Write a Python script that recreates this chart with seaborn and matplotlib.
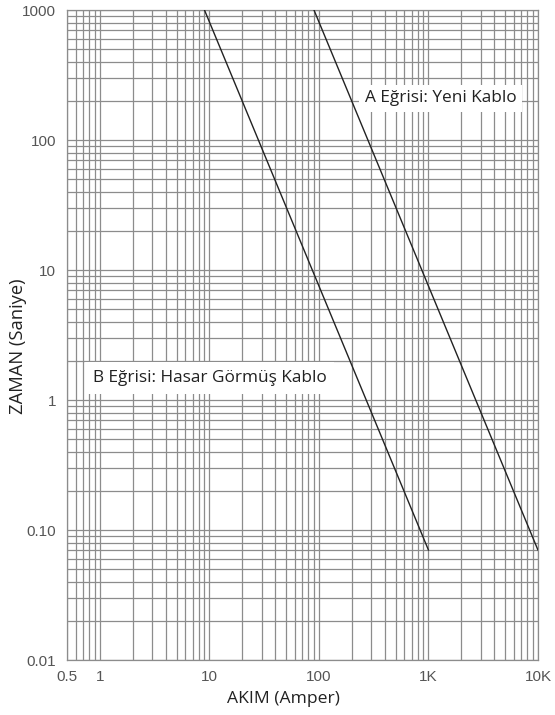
import matplotlib
matplotlib.use("Agg")
import matplotlib.pyplot as plt
import matplotlib.ticker as mticker
import numpy as np
import pandas as pd
import seaborn as sns

# Time-current characteristic of the two cable curves
current_a = [90, 10000]
time_a = [1000, 0.07]
current_b = [9, 1000]
time_b = [1000, 0.07]

x_ticks = [0.5, 1, 10, 100, 1000, 10000]
x_labels = ["0.5", "1", "10", "100", "1K", "10K"]
y_ticks = [0.01, 0.1, 1, 10, 100, 1000]
y_labels = ["0.01", "0.10", "1", "10", "100", "1000"]

label_a = "A Eğrisi: Yeni Kablo"
label_b = "B Eğrisi: Hasar Görmüş Kablo"

df = pd.DataFrame({
    "akim": current_a + current_b,
    "zaman": time_a + time_b,
    "egri": ["A"] * len(current_a) + ["B"] * len(current_b),
})

sns.set_theme(style="white")
plt.rcParams["font.family"] = ["Open Sans", "DejaVu Sans"]

fig = plt.figure(figsize=(5.55, 7.15), dpi=100)
W, H = 555, 715
left, right, top, bottom = 67, 538, 10, 660
ax = fig.add_axes([left / W, 1 - bottom / H, (right - left) / W, (bottom - top) / H])

sns.lineplot(data=df, x="akim", y="zaman", units="egri", estimator=None,
             color="#222222", linewidth=1.0, ax=ax, legend=False, zorder=3)

ax.set_xscale("log")
ax.set_yscale("log")
ax.set_xlim(0.5, 10000)
ax.set_ylim(0.01, 1000)

ax.xaxis.set_major_locator(mticker.FixedLocator(x_ticks))
ax.xaxis.set_major_formatter(mticker.FixedFormatter(x_labels))
ax.yaxis.set_major_locator(mticker.FixedLocator(y_ticks))
ax.yaxis.set_major_formatter(mticker.FixedFormatter(y_labels))
ax.xaxis.set_minor_locator(mticker.LogLocator(base=10, subs=np.arange(2, 10), numticks=30))
ax.yaxis.set_minor_locator(mticker.LogLocator(base=10, subs=np.arange(2, 10), numticks=30))
ax.xaxis.set_minor_formatter(mticker.NullFormatter())
ax.yaxis.set_minor_formatter(mticker.NullFormatter())

grid_color = "#8c8c8c"
ax.grid(True, which="both", color=grid_color, linewidth=0.9)
ax.set_axisbelow(True)
for s in ax.spines.values():
    s.set_color(grid_color)
    s.set_linewidth(0.9)

ax.tick_params(which="both", length=0)
ax.tick_params(axis="x", pad=7)
ax.tick_params(axis="y", pad=8)
for lab in ax.get_xticklabels() + ax.get_yticklabels():
    lab.set_fontfamily("Liberation Sans")
    lab.set_fontsize(11)
    lab.set_color("#555555")

ax.set_xlabel("AKIM (Amper)", fontsize=12.6, color="#222222")
ax.set_ylabel("ZAMAN (Saniye)", fontsize=13.2, color="#222222")
ax.xaxis.set_label_coords(0.459, -0.047)
ax.yaxis.set_label_coords(-0.085, 0.483)

box = dict(facecolor="white", edgecolor="none", pad=4)
ax.text(263, 210, label_a, fontsize=12.4, color="#222222", va="center", ha="left",
        bbox=box, zorder=4)
ax.text(0.86, 1.48, label_b, fontsize=12.4, color="#222222", va="center", ha="left",
        bbox=dict(facecolor="white", edgecolor="none", boxstyle="square,pad=0.45"),
        zorder=4)

fig.savefig("out.png", dpi=100)
